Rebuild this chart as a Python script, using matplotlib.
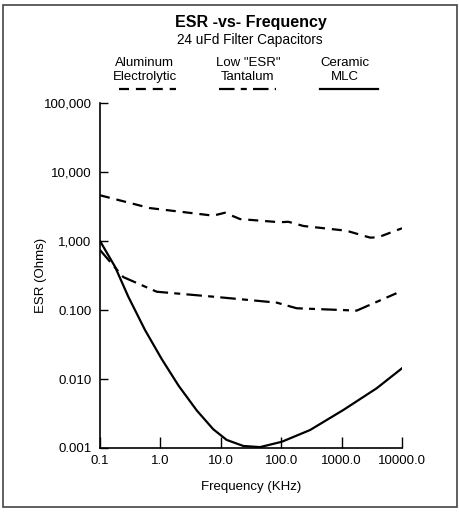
# ESR vs frequency for three 24 uFd filter capacitor types, log-log

import matplotlib
matplotlib.use('Agg')
import matplotlib.pyplot as plt
from matplotlib.lines import Line2D
from matplotlib.patches import Rectangle
from matplotlib.ticker import FixedLocator, FixedFormatter, NullLocator

plt.rcParams['font.family'] = ['Liberation Sans', 'DejaVu Sans']

# Values (frequency in KHz, ESR as plotted)
alu_freq = [0.1, 0.67, 7.5, 11.7, 20.8, 95, 131, 234, 1200, 2960, 4000, 10000]
alu_esr = [4.6, 3.0, 2.33, 2.57, 2.08, 1.87, 1.9, 1.65, 1.41, 1.12, 1.13, 1.53]

tan_freq = [0.1, 0.243, 0.87, 7.5, 84, 180, 1780, 8100]
tan_esr = [0.74, 0.30, 0.184, 0.156, 0.128, 0.106, 0.098, 0.175]

cer_freq = [0.1, 0.177, 0.294, 0.556, 1.05, 2.0, 4.0, 7.5, 12.5, 23.6, 44.6,
            102, 300, 1070, 3800, 10000]
cer_esr = [1.0, 0.425, 0.156, 0.0513, 0.0195, 0.0080, 0.0035, 0.00187, 0.00131,
           0.00107, 0.00103, 0.00123, 0.00182, 0.00356, 0.00733, 0.0143]

x_ticks = [0.1, 1, 10, 100, 1000, 10000]
x_labels = ["0.1", "1.0", "10.0", "100.0", "1000.0", "10000.0"]
y_ticks = [0.001, 0.01, 0.1, 1, 10, 100]
y_labels = ["0.001", "0.010", "0.100", "1,000", "10,000", "100,000"]

legend_names = ['Aluminum\nElectrolytic', 'Low "ESR"\nTantalum', 'Ceramic\nMLC']

alu_dash = (0, (4.5, 3.1))
tan_dash = (0, (7, 2.8, 2.7, 2.8))
cer_dash = '-'

fig = plt.figure(figsize=(4.6, 5.12), dpi=100)
ax = fig.add_axes([0.2174, 0.125, 0.6565, 0.6738])

ax.plot(alu_freq, alu_esr, color='black', lw=1.6, linestyle=alu_dash)
ax.plot(tan_freq, tan_esr, color='black', lw=1.6, linestyle=tan_dash)
ax.plot(cer_freq, cer_esr, color='black', lw=1.6, linestyle=cer_dash,
        solid_joinstyle='round')

ax.set_xscale('log')
ax.set_yscale('log')
ax.set_xlim(0.1, 10000)
ax.set_ylim(0.001, 100)

ax.xaxis.set_major_locator(FixedLocator(x_ticks))
ax.xaxis.set_major_formatter(FixedFormatter(x_labels))
ax.xaxis.set_minor_locator(NullLocator())
ax.yaxis.set_major_locator(FixedLocator(y_ticks))
ax.yaxis.set_major_formatter(FixedFormatter(y_labels))
ax.yaxis.set_minor_locator(NullLocator())

ax.tick_params(axis='x', direction='in', length=8, width=1, labelsize=9.5, pad=5)
ax.tick_params(axis='y', direction='in', length=6, width=1, labelsize=9.5, pad=6)

for side in ['top', 'right']:
    ax.spines[side].set_visible(False)
for side in ['left', 'bottom']:
    ax.spines[side].set_linewidth(1.2)

ax.set_xlabel('Frequency (KHz)', fontsize=9.5, labelpad=10)
ax.set_ylabel('ESR (Ohms)', fontsize=9.5, labelpad=-2.5)

# titles
fig.text(0.546, 0.956, 'ESR -vs- Frequency', ha='center', va='center',
         fontsize=11.5, fontweight='bold')
fig.text(0.543, 0.922, '24 uFd Filter Capacitors', ha='center', va='center', fontsize=9.8)

# key above the plot
text_x = [0.315, 0.539, 0.749]
line_x = [0.3207, 0.5387, 0.7587]
key_styles = [alu_dash, tan_dash, cer_dash]
for tx, lx, name, style in zip(text_x, line_x, legend_names, key_styles):
    fig.text(tx, 0.863, name, ha='center', va='center', fontsize=9.5, linespacing=1.25)
    fig.add_artist(Line2D([lx - 0.062, lx + 0.062], [0.826, 0.826], color='black',
                          lw=1.6, linestyle=style, transform=fig.transFigure))

# frame around the whole figure
fig.add_artist(Rectangle((0.0065, 0.0098), 0.987, 0.980, fill=False, edgecolor='#444444',
                         lw=1.2, transform=fig.transFigure))

fig.savefig('out.png', dpi=100)
